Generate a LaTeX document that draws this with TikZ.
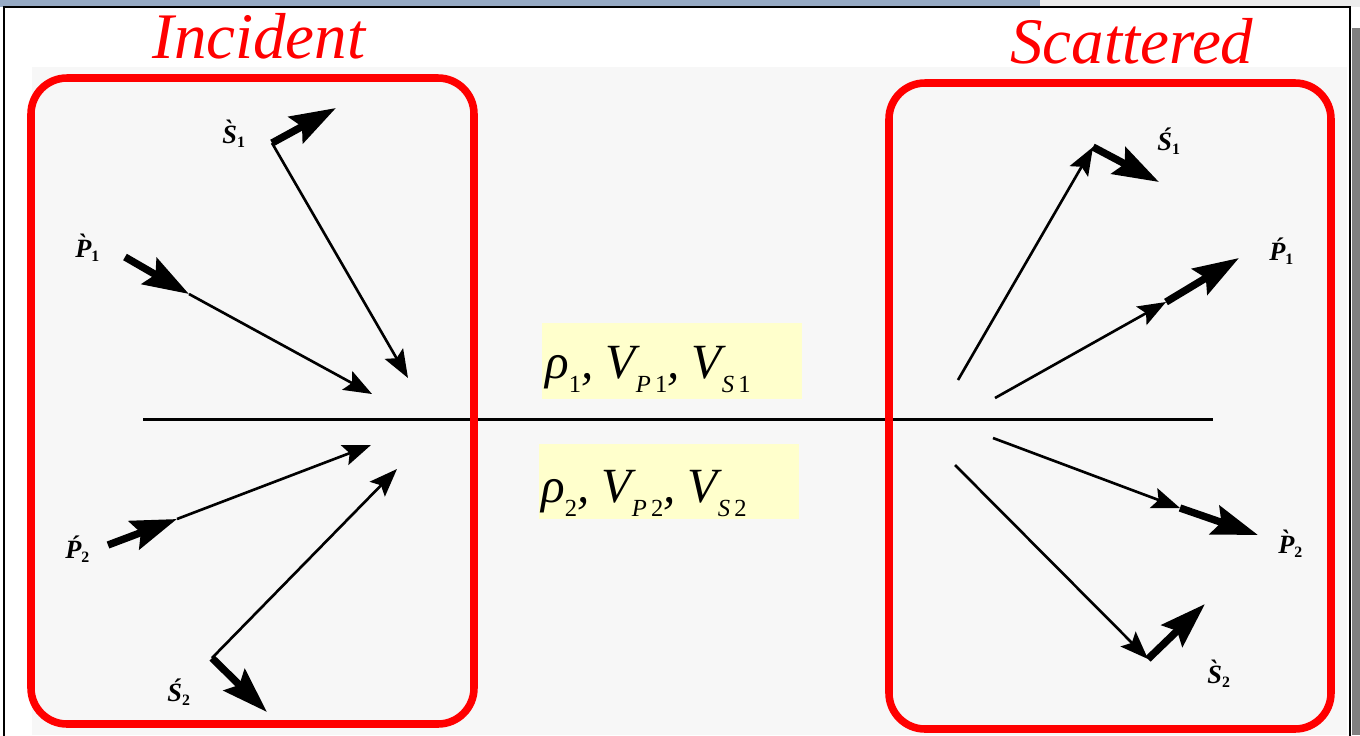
\documentclass[tikz,border=0pt]{standalone}
\usepackage{fontspec}
\setmainfont{Liberation Serif}
\usetikzlibrary{arrows.meta}

\definecolor{barblue}{RGB}{150,170,196}
\definecolor{barlight}{RGB}{236,236,236}
\definecolor{scanbg}{RGB}{247,247,247}
\definecolor{paleyellow}{RGB}{255,255,204}
\definecolor{shadowgray}{RGB}{128,128,128}

% small lowered indices for the wave labels and the layer values
\newcommand{\wavesub}[1]{\raisebox{-2.5pt}{\fontsize{9}{10}\selectfont\upshape #1}}
\newcommand{\layersub}[1]{\raisebox{-8pt}{\fontsize{14}{16}\selectfont #1}}

\tikzset{
  thinray/.style={line width=1.5pt,-{Stealth[length=16pt,width=12pt,inset=3pt]}},
  thickray/.style={line width=4.2pt,-{Stealth[length=26pt,width=17pt,inset=4pt]}},
  interface/.style={line width=1.7pt},
  redbox/.style={draw=red,line width=4.3pt,rounded corners=0.72cm},
  wavelabel/.style={anchor=base west,inner sep=0pt,font=\fontsize{15}{17}\selectfont\bfseries\itshape},
  layertext/.style={anchor=base west,inner sep=0pt,font=\fontsize{28}{32}\selectfont\itshape},
  title/.style={anchor=base west,inner sep=0pt,text=red,font=\fontsize{37}{40}\selectfont\itshape}
}

\begin{document}
\begin{tikzpicture}[x=0.02cm,y=-0.02cm]
\useasboundingbox (0,0) rectangle (1360,735);
%the slide frame round the scanned figure
\fill[white] (0,0) rectangle (1360,735);
\fill[barblue] (0,0) rectangle (1040,7);
\fill[barlight] (1040,0) rectangle (1360,7);
\fill[shadowgray] (1352,28) rectangle (1360,735);
\draw[line width=0.6pt] (4,740) -- (4,7) -- (1350,7) -- (1350,740);
\fill[scanbg] (32,67) rectangle (1347,735);

%the two layers and their parameters
\fill[paleyellow] (542,323) rectangle (802,399);
\fill[paleyellow] (539,444) rectangle (799,519);
\node[layertext] (upper) at (545,378)
  {ρ\layersub{\upshape 1}, V\layersub{P\,\upshape 1}, V\layersub{S\,\upshape 1}};
\node[layertext] (lower) at (541,502)
  {ρ\layersub{\upshape 2}, V\layersub{P\,\upshape 2}, V\layersub{S\,\upshape 2}};
\coordinate (ifL) at (143,419);
\coordinate (ifR) at (1213,419);
\draw[interface] (ifL) -- (ifR);

%incident waves
\coordinate (iP1a) at (125,257);
\coordinate (iP1m) at (189,294);
\coordinate (iP1b) at (372,394);
\coordinate (iS1c) at (272,143);
\coordinate (iS1t) at (336,108);
\coordinate (iS1b) at (408,378);
\coordinate (iP2a) at (108,545);
\coordinate (iP2m) at (177,519);
\coordinate (iP2b) at (371,445);
\coordinate (iS2c) at (212,658);
\coordinate (iS2b) at (397,469);
\coordinate (iS2t) at (267,712);
\draw[thinray] (iP1m) -- (iP1b);
\draw[thickray] (iP1a) -- (iP1m);
\draw[thinray] (iS1c) -- (iS1b);
\draw[thickray] (iS1c) -- (iS1t);
\draw[thinray] (iP2m) -- (iP2b);
\draw[thickray] (iP2a) -- (iP2m);
\draw[thinray] (iS2c) -- (iS2b);
\draw[thickray] (iS2c) -- (iS2t);

%scattered waves
\coordinate (sS1a) at (958,380);
\coordinate (sS1c) at (1093,147);
\coordinate (sS1t) at (1159,182);
\coordinate (sP1a) at (995,398);
\coordinate (sP1m) at (1166,302);
\coordinate (sP1b) at (1239,258);
\coordinate (sP2a) at (993,438);
\coordinate (sP2m) at (1180,508);
\coordinate (sP2b) at (1258,535);
\coordinate (sS2a) at (955,465);
\coordinate (sS2c) at (1148,659);
\coordinate (sS2t) at (1205,604);
\draw[thickray] (sS1c) -- (sS1t);
\draw[thinray] (sS1a) -- (sS1c);
\draw[thickray] (sP1m) -- (sP1b);
\draw[thinray] (sP1a) -- (sP1m);
\draw[thickray] (sP2m) -- (sP2b);
\draw[thinray] (sP2a) -- (sP2m);
\draw[thickray] (sS2c) -- (sS2t);
\draw[thinray] (sS2a) -- (sS2c);

%wave labels
\node[wavelabel] (iP1lab) at (75,257) {\`P\wavesub{1}};
\node[wavelabel] (iS1lab) at (222,143) {\`S\wavesub{1}};
\node[wavelabel] (iP2lab) at (65,558) {\'P\wavesub{2}};
\node[wavelabel] (iS2lab) at (167,701) {\'S\wavesub{2}};
\node[wavelabel] (sS1lab) at (1157,150) {\'S\wavesub{1}};
\node[wavelabel] (sP1lab) at (1269,260) {\'P\wavesub{1}};
\node[wavelabel] (sP2lab) at (1278,553) {\`P\wavesub{2}};
\node[wavelabel] (sS2lab) at (1207,683) {\`S\wavesub{2}};

%red frames and titles
\draw[redbox] (31,78) rectangle (474,724);
\draw[redbox] (889,83) rectangle (1331,729);
\node[title] (inc) at (152,58) {Incident};
\node[title] (sca) at (1010,63) {Scattered};
\end{tikzpicture}
\end{document}
